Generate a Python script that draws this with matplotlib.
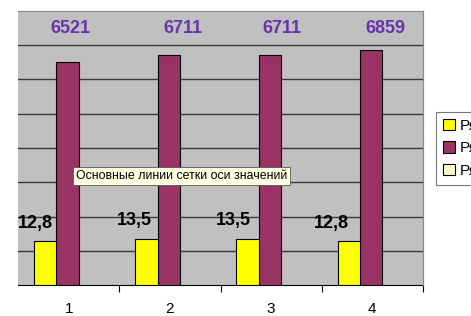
import matplotlib
matplotlib.use("Agg")
import matplotlib.pyplot as plt
import numpy as np

categories = ["1", "2", "3", "4"]
series_names = ["Ряд1", "Ряд2", "Ряд3"]
ser1 = [12.8, 13.5, 13.5, 12.8]      # secondary axis
ser2 = [6521, 6711, 6711, 6859]      # primary axis
ser3 = [0, 0, 0, 0]
ser1_labels = ["12,8", "13,5", "13,5", "12,8"]
ser2_labels = ["6521", "6711", "6711", "6859"]
tooltip = "Основные линии сетки оси значений"

plt.rcParams['font.family'] = ['Liberation Sans', 'DejaVu Sans']

fig = plt.figure(figsize=(4.71, 3.16), dpi=100)
fig.patch.set_facecolor('white')
ax = fig.add_axes([18/471, 1-285/316, (423-18)/471, (285-11)/316])
ax.set_facecolor('#C0C0C0')
ax2 = ax.twinx()

x = np.arange(1, len(categories)+1)
w = 0.22
off1, off2, off3 = -0.232, -0.012, 0.208

ax.set_ylim(0, 8000)
ax2.set_ylim(0, 80)
ax.set_xlim(0.5, len(categories)+0.5)

ax.set_yticks(np.arange(1000, 8000, 1000))
ax.yaxis.grid(True, color='#3a3a3a', lw=1.0)
ax.set_axisbelow(True)
ax.tick_params(axis='y', left=False, labelleft=False)
ax2.tick_params(axis='y', right=False, labelright=False)

b2 = ax.bar(x+off2, ser2, w, color='#993366', edgecolor='black', lw=0.8, label=series_names[1], zorder=3)
b3 = ax.bar(x+off3, ser3, w, color='#FFFFCC', edgecolor='none', lw=0, label=series_names[2], zorder=3)
b1 = ax2.bar(x+off1, ser1, w, color='#FFFF00', edgecolor='black', lw=0.8, label=series_names[0], zorder=3)

ax.set_xticks(x)
ax.set_xticklabels(categories, fontsize=11)
ax.set_xticks(np.arange(1.5, len(categories)+0.6, 1), minor=True)
ax.tick_params(axis='x', which='major', length=0, pad=12)
ax.tick_params(axis='x', which='minor', length=5, direction='out', color='black', width=0.8)

for s in ['left']:
    ax.spines[s].set_visible(False)
    ax2.spines[s].set_visible(False)
for s in ['top', 'right']:
    ax.spines[s].set_color('#8a8a8a')
    ax2.spines[s].set_color('#8a8a8a')
ax.spines['bottom'].set_color('black')
ax2.spines['bottom'].set_visible(False)

lab2_dx = [0.02, 0.13, 0.105, 0.127]
for i, t in enumerate(ser2_labels):
    ax.text(x[i]+lab2_dx[i], 7500, t, ha='center', va='center', fontsize=13,
            fontweight='bold', color='#6633AA', zorder=5)

lab1_dx = [-0.33, -0.347, -0.37, -0.406]
for i, t in enumerate(ser1_labels):
    ax2.text(x[i]+lab1_dx[i], ser1[i]+5.3, t, ha='center', va='center', fontsize=13,
             fontweight='bold', color='black', zorder=5)

fig.text(76/471, 1-176/316, tooltip, fontsize=8.9, ha='left', va='center', color='black',
         bbox=dict(boxstyle='square,pad=0.25', fc='#FFFFE1', ec='#555555', lw=0.6), zorder=10)

handles = [b1, b2, b3]
leg = fig.legend(handles, series_names, loc='upper left', bbox_to_anchor=(436/471, 1-111.7/316),
                 frameon=True, fontsize=11, handlelength=0.8, handleheight=0.8,
                 handletextpad=0.3, borderpad=0.45, labelspacing=0.55, borderaxespad=0, fancybox=False)
leg.get_frame().set_edgecolor('#555555')
leg.get_frame().set_linewidth(0.8)
leg.legend_handles[2].set_edgecolor('black')
leg.legend_handles[2].set_linewidth(0.8)

fig.savefig('out.png', dpi=100)
